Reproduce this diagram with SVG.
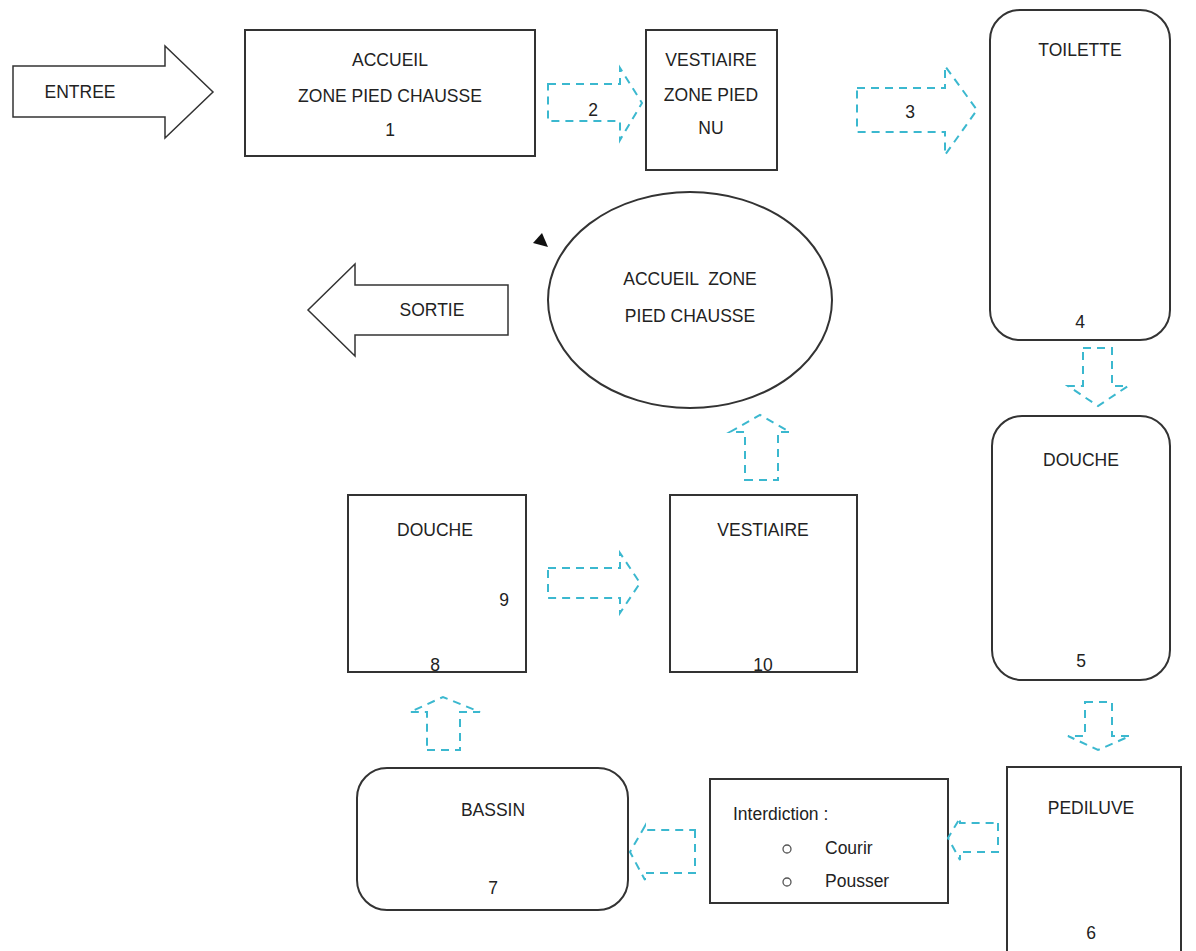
<svg xmlns="http://www.w3.org/2000/svg" width="1196" height="951" viewBox="0 0 1196 951">
<defs>
<style>
.box{fill:#fff;stroke:#333;stroke-width:2}
.big{fill:#fff;stroke:#333;stroke-width:1.5}
.flow{fill:none;stroke:#3bb8cf;stroke-width:2;stroke-dasharray:8 6}
text{font-family:"Liberation Sans",Arial,sans-serif;font-size:17.5px;fill:#222;text-anchor:middle}
</style>
<clipPath id="c8"><rect x="348" y="495" width="178" height="176"/></clipPath>
<clipPath id="c10"><rect x="670" y="495" width="187" height="176"/></clipPath>
</defs>
<rect width="1196" height="951" fill="#fff"/>

<g id="entree">
<polygon class="big" points="13,66 165,66 165,46 213,92 165,138 165,117 13,117"/>
<text x="80" y="98">ENTREE</text>
</g>

<g id="n1">
<rect class="box" x="245" y="30" width="290" height="126"/>
<text x="390" y="66">ACCUEIL</text>
<text x="390" y="102">ZONE PIED CHAUSSE</text>
<text x="390" y="136">1</text>
</g>

<g id="n2">
<rect class="box" x="646" y="30" width="131" height="140"/>
<text x="711" y="66">VESTIAIRE</text>
<text x="711" y="101">ZONE PIED</text>
<text x="711" y="134">NU</text>
</g>

<g id="n4">
<rect class="box" x="990" y="10" width="180" height="330" rx="30"/>
<text x="1080" y="56">TOILETTE</text>
<text x="1080" y="328">4</text>
</g>

<g id="n5">
<rect class="box" x="992" y="416" width="178" height="264" rx="30"/>
<text x="1081" y="466">DOUCHE</text>
<text x="1081" y="667">5</text>
</g>

<g id="n6">
<rect class="box" x="1007" y="767" width="174" height="200"/>
<text x="1091" y="814">PEDILUVE</text>
<text x="1091" y="939">6</text>
</g>

<g id="interdiction">
<rect class="box" x="710" y="779" width="238" height="124"/>
<text x="733" y="820" style="text-anchor:start">Interdiction :</text>
<circle cx="787" cy="849" r="4" fill="none" stroke="#555" stroke-width="1.3"/>
<text x="825" y="854" style="text-anchor:start">Courir</text>
<circle cx="787" cy="882" r="4" fill="none" stroke="#555" stroke-width="1.3"/>
<text x="825" y="887" style="text-anchor:start">Pousser</text>
</g>

<g id="n7">
<rect class="box" x="357" y="768" width="271" height="142" rx="30"/>
<text x="493" y="816">BASSIN</text>
<text x="493" y="894">7</text>
</g>

<g id="n8">
<rect class="box" x="348" y="495" width="178" height="177"/>
<text x="435" y="536">DOUCHE</text>
<text x="504" y="606">9</text>
<text x="435" y="671" clip-path="url(#c8)">8</text>
</g>

<g id="n10">
<rect class="box" x="670" y="495" width="187" height="177"/>
<text x="763" y="536">VESTIAIRE</text>
<text x="763" y="671" clip-path="url(#c10)">10</text>
</g>

<g id="n11">
<ellipse class="box" cx="690" cy="300" rx="142" ry="108" stroke-width="1.5"/>
<text x="690" y="285" xml:space="preserve" style="white-space:pre">ACCUEIL  ZONE</text>
<text x="690" y="322">PIED CHAUSSE</text>
</g>

<g id="sortie">
<polygon class="big" points="508,285 355,285 355,264 308,310 355,356 355,335 508,335"/>
<text x="432" y="316">SORTIE</text>
</g>

<polygon points="533,243 542,233 548,247" fill="#111"/>

<g id="connectors">
<polygon class="flow" points="548,84 620,84 620,68 642,103 620,140 620,121 548,121"/>
<text x="593" y="116">2</text>
<polygon class="flow" points="857,88 945,88 945,66 977,110 945,155 945,132 857,132"/>
<text x="910" y="118">3</text>
<polygon class="flow" points="1083,348 1112,348 1112,386 1128,386 1098,406 1068,386 1083,386"/>
<polygon class="flow" points="1085,702 1112,702 1112,736 1130,736 1098,750 1068,736 1085,736"/>
<polygon class="flow" points="998,823 998,852 960,852 960,860 948,838 960,818 960,823"/>
<polygon class="flow" points="695,830 695,873 645,873 645,880 630,852 645,826 645,830"/>
<polygon class="flow" points="427,750 460,750 460,712 480,712 443,697 410,712 427,712"/>
<polygon class="flow" points="548,568 620,568 620,553 640,583 620,613 620,598 548,598"/>
<polygon class="flow" points="745,480 778,480 778,432 790,432 760,415 730,432 745,432"/>
</g>
</svg>
